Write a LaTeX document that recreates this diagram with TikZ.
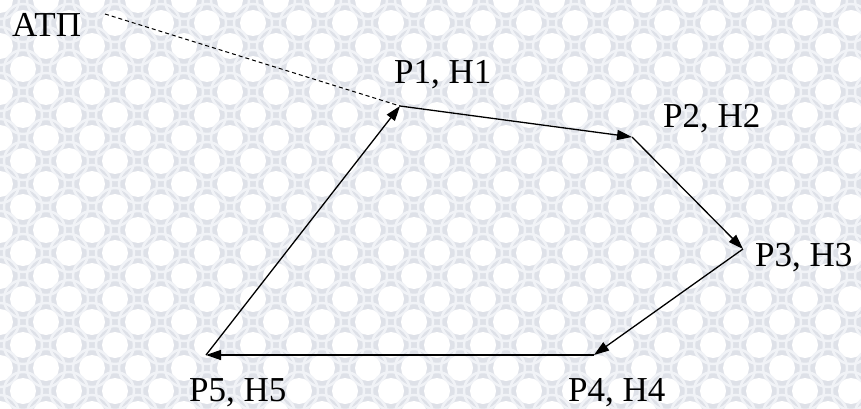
\documentclass[tikz,border=0pt]{standalone}
\usepackage{fontspec}
\setmainfont{Liberation Serif}
\usetikzlibrary{arrows.meta}
\definecolor{bgcol}{RGB}{222,225,232}
\definecolor{ringcol}{RGB}{241,243,247}
\tikzset{
  lbl/.style={anchor=base west,inner sep=0pt,font=\fontsize{35}{40}\selectfont},
  edge/.style={line width=1.3pt,-{Triangle[length=15pt,width=10pt]}},
  leader/.style={line width=1pt,dash pattern=on 4pt off 3pt}
}
\begin{document}
\begin{tikzpicture}[x=1pt,y=-1pt]
\useasboundingbox (0,0) rectangle (861,409);
\begin{scope}
\clip (0,0) rectangle (861,409);
\fill[bgcol] (0,0) rectangle (861,409);
\foreach \r in {0,...,19}{
  \foreach \c in {0,...,19}{
    \pgfmathsetmacro{\xx}{\c*46+mod(\r,2)*23}
    \pgfmathsetmacro{\yy}{\r*23}
    \fill[white] (\xx,\yy) circle[radius=13];
    \draw[ringcol,line width=2.5pt] (\xx,\yy) circle[radius=19];
  }
}
\end{scope}
\coordinate (p1) at (400,106);
\coordinate (p2) at (632,137);
\coordinate (p3) at (743,249);
\coordinate (p4) at (594,355);
\coordinate (p5) at (206,355);
\coordinate (d0) at (105,14);
\node[lbl] (atp) at (12,37) {АТП};
\node[lbl] (l1) at (394,84) {Р1, Н1};
\node[lbl] (l2) at (663,128) {Р2, Н2};
\node[lbl] (l3) at (755,266) {Р3, Н3};
\node[lbl] (l4) at (568,401) {Р4, Н4};
\node[lbl] (l5) at (189,401) {Р5, Н5};
\draw[leader] (d0) -- (p1);
\draw[edge] (p1) -- (p2);
\draw[edge] (p2) -- (p3);
\draw[edge] (p3) -- (p4);
\draw[edge] (p4) -- (p5);
\draw[edge] (p5) -- (p1);
\end{tikzpicture}
\end{document}
